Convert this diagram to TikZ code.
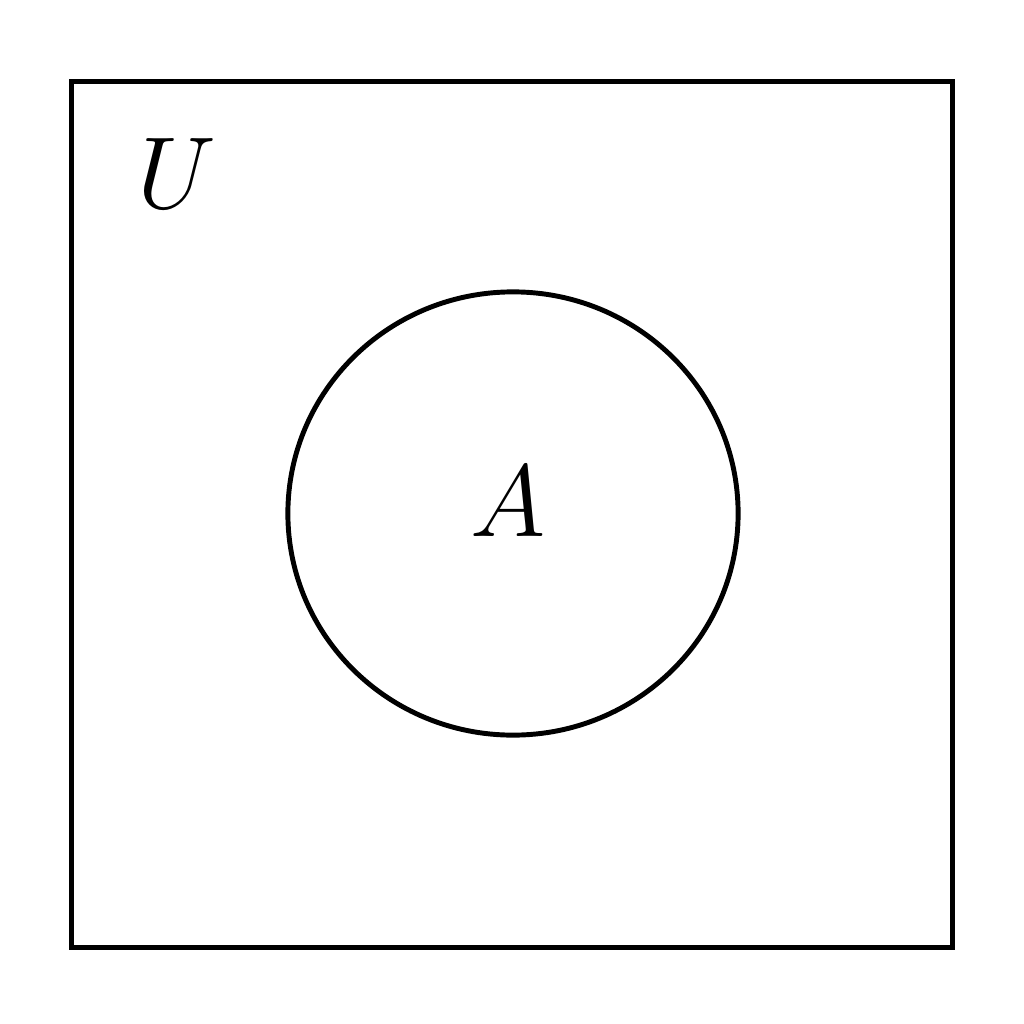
\documentclass[tikz,border=0pt]{standalone}
\usetikzlibrary{shapes.geometric}
\begin{document}
\begin{tikzpicture}[x=0.01cm,y=-0.01cm,
  frame/.style={draw=black,line width=1.4pt},
  setlabel/.style={inner sep=0pt,font=\Huge,scale=1.17}]
\useasboundingbox (0,0) rectangle (1024,1024);
\node[frame,minimum width=8.8cm,minimum height=8.65cm,inner sep=0pt] (U) at (512,514.5) {};
\node[frame,ellipse,minimum width=4.5cm,minimum height=4.43cm,inner sep=0pt] (A) at (513,513.5) {};
\node[setlabel] (lU) at (177,174) {$U$};
\node[setlabel] (lA) at (508,502) {$A$};
\end{tikzpicture}
\end{document}
